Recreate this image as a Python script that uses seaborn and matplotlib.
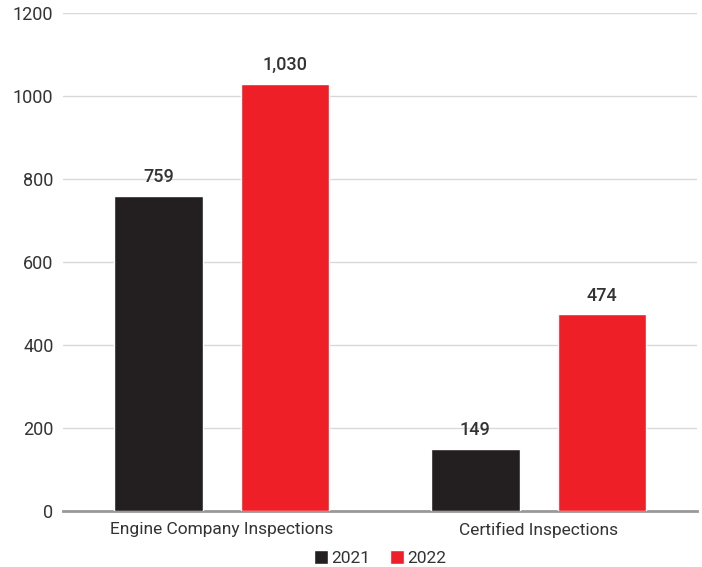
import pandas as pd
import seaborn as sns
import matplotlib
matplotlib.use("Agg")
from matplotlib import pyplot as plt

categories = ["Engine Company Inspections", "Certified Inspections"]
years = ["2021", "2022"]
values_2021 = [759, 149]
values_2022 = [1030, 474]

df = pd.DataFrame({
    "category": categories * 2,
    "year": [years[0]] * 2 + [years[1]] * 2,
    "count": values_2021 + values_2022,
})

sns.set_style("white")
plt.rcParams["font.family"] = ["Roboto", "DejaVu Sans"]

palette = {"2021": "#231f20", "2022": "#ee1f26"}

fig = plt.figure(figsize=(7.02, 5.67), dpi=100)
ax = fig.add_axes([0.09, 0.099, 0.903, 0.878])

sns.barplot(data=df, x="category", y="count", hue="year", palette=palette,
            gap=0.3, width=0.8, saturation=1, ax=ax, zorder=3, legend=True)

for cont in ax.containers:
    ax.bar_label(cont, labels=[f"{v:,.0f}" for v in cont.datavalues],
                 padding=7, fontsize=13, fontweight="medium", color="#333333")

ax.set_ylim(0, 1200)
ax.set_xlim(-0.5, 1.5)
ax.set_yticks(range(0, 1201, 200))
ax.yaxis.grid(True, color="#d9d9d9", linewidth=1, zorder=0)
ax.xaxis.grid(False)
for s in ["top", "right", "left"]:
    ax.spines[s].set_visible(False)
ax.spines["bottom"].set_color("#999999")
ax.spines["bottom"].set_linewidth(2)
ax.set_xlabel("")
ax.set_ylabel("")
ax.tick_params(axis="y", length=0, pad=7, labelsize=13, labelcolor="#333333")
ax.tick_params(axis="x", length=0, pad=8, labelsize=12.5, labelcolor="#333333")

ax.legend(loc="upper center", bbox_to_anchor=(0.5, -0.055), ncol=2, frameon=False,
          handlelength=0.8, handleheight=0.8, handletextpad=0.2, columnspacing=1.1,
          borderpad=0.2, fontsize=12.5, labelcolor="#333333")

fig.savefig("out.png", dpi=100)
